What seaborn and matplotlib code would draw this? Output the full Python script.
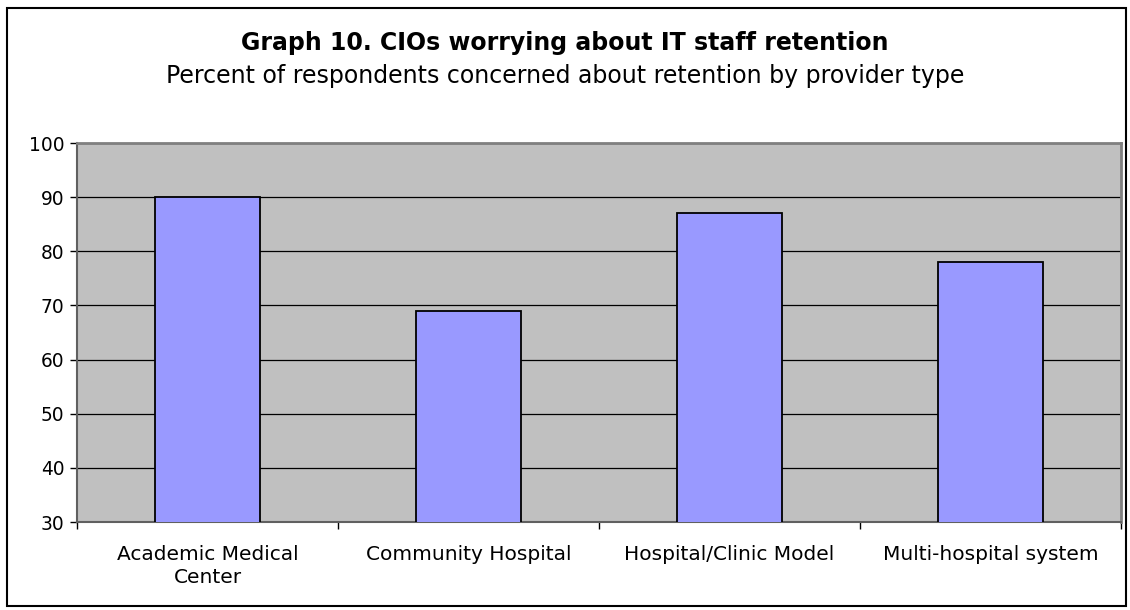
import matplotlib
matplotlib.use("Agg")
import matplotlib.pyplot as plt
from matplotlib.patches import Rectangle
from matplotlib.ticker import FixedLocator
import seaborn as sns
import pandas as pd

# Survey results
provider_types = ["Academic Medical\nCenter", "Community Hospital",
                  "Hospital/Clinic Model", "Multi-hospital system"]
percent_concerned = [90, 69, 87, 78]
y_ticks = [30, 40, 50, 60, 70, 80, 90, 100]

title = "Graph 10. CIOs worrying about IT staff retention"
subtitle = "Percent of respondents concerned about retention by provider type"

df = pd.DataFrame({"provider": provider_types, "percent": percent_concerned})

sns.set_style("white")
plt.rcParams["font.family"] = ["DejaVu Sans"]
plt.rcParams["text.color"] = "black"
plt.rcParams["xtick.color"] = "black"
plt.rcParams["ytick.color"] = "black"

W, H = 1130, 610
fig = plt.figure(figsize=(W / 100, H / 100), dpi=100)

# outer chart frame
fig.patches.append(Rectangle((7 / W, 4 / H), 1119 / W, 598 / H,
                             transform=fig.transFigure, fill=False,
                             edgecolor="black", linewidth=1.5))

left, right, top, bottom = 77, 1121, 143, 522
ax = fig.add_axes([left / W, (H - bottom) / H, (right - left) / W, (bottom - top) / H])
ax.set_facecolor("#C0C0C0")

sns.barplot(data=df, x="provider", y="percent", ax=ax, width=0.4,
            color="#9999FF", edgecolor="black", linewidth=1.3,
            saturation=1, zorder=3)

ax.set_ylim(30, 100)
ax.set_xlim(-0.5, len(provider_types) - 0.5)
ax.set_yticks(y_ticks)
ax.yaxis.grid(True, color="black", linewidth=0.9, zorder=1)
ax.set_axisbelow(True)

ax.set_xlabel("")
ax.set_ylabel("")

for side in ["top", "right"]:
    ax.spines[side].set_visible(True)
    ax.spines[side].set_color("#808080")
    ax.spines[side].set_linewidth(2)
for side in ["left", "bottom"]:
    ax.spines[side].set_color("#606060")
    ax.spines[side].set_linewidth(1.5)

ax.tick_params(axis="y", which="major", left=True, length=5, width=1,
               color="black", labelsize=13.4, pad=4)
ax.tick_params(axis="x", which="major", bottom=False, labelsize=14.5, pad=13)
ax.xaxis.set_minor_locator(FixedLocator([i - 0.5 for i in range(len(provider_types) + 1)]))
ax.tick_params(axis="x", which="minor", bottom=True, length=5, width=1, color="black")
for lbl in ax.get_xticklabels():
    lbl.set_linespacing(1.3)

fig.text(0.5, (H - 43) / H, title, ha="center", va="center",
         fontsize=17, fontweight="bold")
fig.text(0.5, (H - 76) / H, subtitle, ha="center", va="center", fontsize=17)

fig.savefig("out.png", dpi=100)
